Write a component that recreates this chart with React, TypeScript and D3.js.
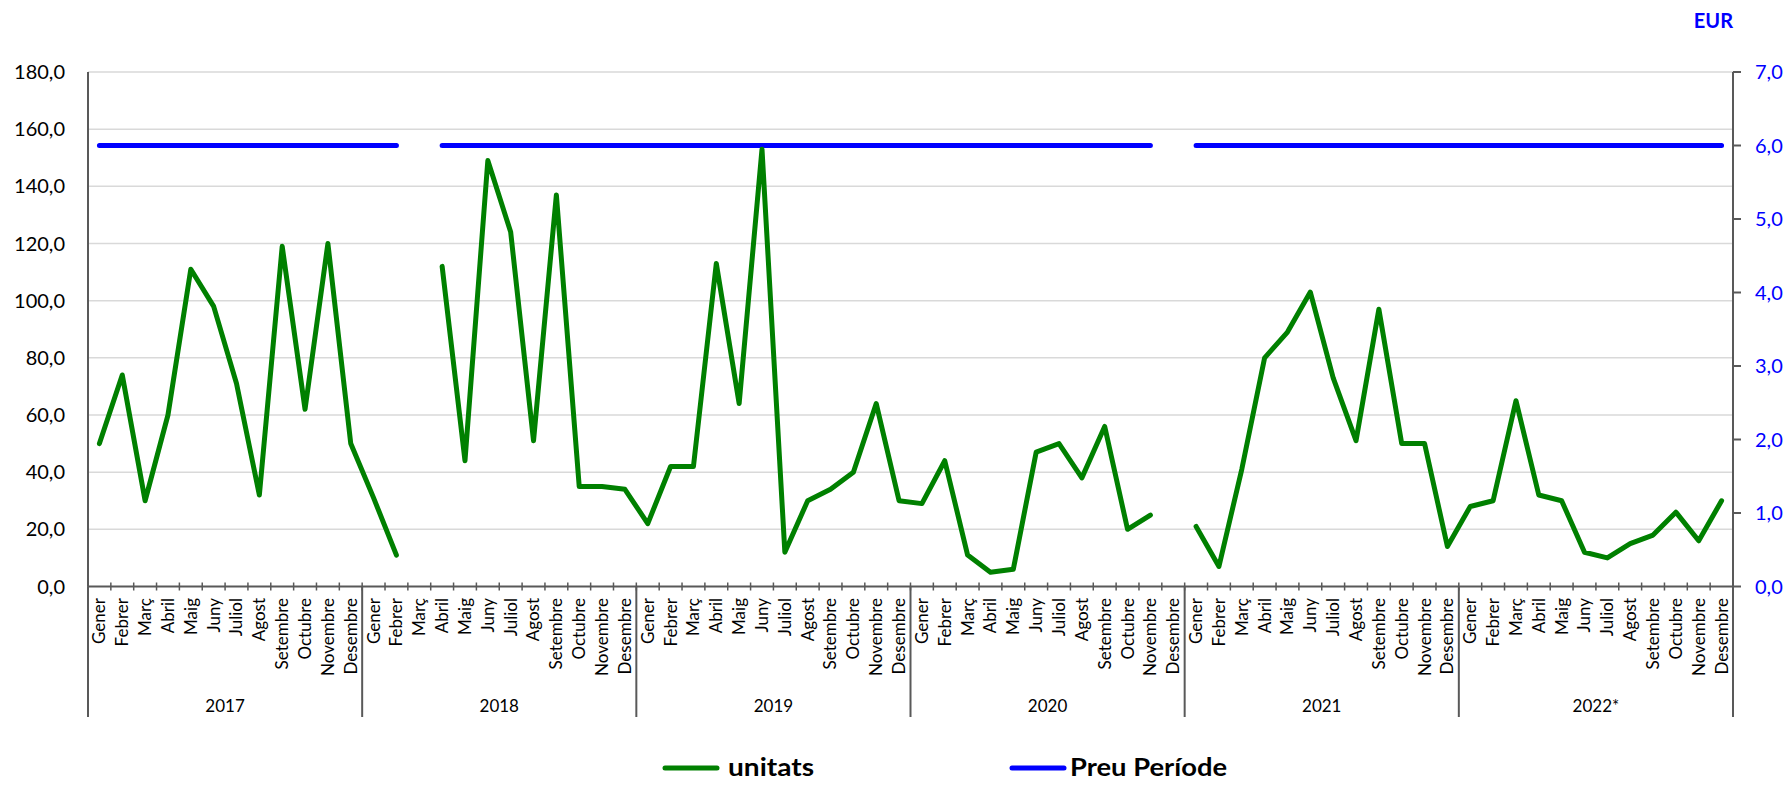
import { useEffect, useRef } from 'react'
import * as d3 from 'd3'

// month names (Catalan) and years shown on the two-level category axis
const MONTHS = ['Gener', 'Febrer', 'Març', 'Abril', 'Maig', 'Juny', 'Juliol', 'Agost', 'Setembre', 'Octubre', 'Novembre', 'Desembre']
const YEARS  = ['2017', '2018', '2019', '2020', '2021', '2022*']

// unitats (left axis), one value per month, null = no data
const UNITATS: (number | null)[] = [
  50, 74, 30, 60, 111, 98, 71, 32, 119, 62, 120, 50,        // 2017
  31, 11, null, 112, 44, 149, 124, 51, 137, 35, 35, 34,     // 2018
  22, 42, 42, 113, 64, 153, 12, 30, 34, 40, 64, 30,         // 2019
  29, 44, 11, 5, 6, 47, 50, 38, 56, 20, 25, null,           // 2020
  21, 7, 41, 80, 89, 103, 73, 51, 97, 50, 50, 14,           // 2021
  28, 30, 65, 32, 30, 12, 10, 15, 18, 26, 16, 30,           // 2022
]

// Preu Període (right axis, EUR)
const PREU: (number | null)[] = [
  6, 6, 6, 6, 6, 6, 6, 6, 6, 6, 6, 6,
  6, 6, null, 6, 6, 6, 6, 6, 6, 6, 6, 6,
  6, 6, 6, 6, 6, 6, 6, 6, 6, 6, 6, 6,
  6, 6, 6, 6, 6, 6, 6, 6, 6, 6, 6, null,
  6, 6, 6, 6, 6, 6, 6, 6, 6, 6, 6, 6,
  6, 6, 6, 6, 6, 6, 6, 6, 6, 6, 6, 6,
]

const LEFT_TICKS  = [0, 20, 40, 60, 80, 100, 120, 140, 160, 180]
const RIGHT_TICKS = [0, 1, 2, 3, 4, 5, 6, 7]

const GREEN = '#008000'
const BLUE  = '#0000ff'
const FONT  = 'Lato, "Open Sans", sans-serif'

export default function App() {
  const svgRef = useRef<SVGSVGElement>(null)

  useEffect(() => {
    document.body.style.margin = '0'
    if (!svgRef.current) return
    const svg = d3.select(svgRef.current)
    svg.selectAll('*').remove()

    const W = 1789, H = 788
    const x0 = 88, x1 = 1733
    const yTop = 72, yBot = 586.5

    svg.attr('width', W).attr('height', H).style('font-family', FONT)

    const idx = d3.range(UNITATS.length)
    const x = d3.scaleBand<number>().domain(idx).range([x0, x1]).paddingInner(0).paddingOuter(0)
    const cx = (i: number) => x(i)! + x.bandwidth() / 2
    const yL = d3.scaleLinear().domain([0, 180]).range([yBot, yTop])
    const yR = d3.scaleLinear().domain([0, 7]).range([yBot, yTop])

    // Grid
    svg.append('g')
      .selectAll('line')
      .data(LEFT_TICKS.filter(t => t > 0))
      .join('line')
      .attr('x1', x0).attr('x2', x1)
      .attr('y1', d => yL(d)).attr('y2', d => yL(d))
      .attr('stroke', '#d9d9d9').attr('stroke-width', 1.5)

    // Left axis
    svg.append('line').attr('x1', x0).attr('x2', x0).attr('y1', yTop).attr('y2', yBot)
      .attr('stroke', '#595959').attr('stroke-width', 2)
    svg.append('g')
      .selectAll('text')
      .data(LEFT_TICKS)
      .join('text')
      .attr('x', 65).attr('y', d => yL(d)).attr('dy', '0.35em')
      .attr('text-anchor', 'end').attr('font-size', 20).attr('fill', '#000')
      .text(d => d.toFixed(1).replace('.', ','))

    // Right axis
    svg.append('line').attr('x1', x1).attr('x2', x1).attr('y1', yTop).attr('y2', yBot)
      .attr('stroke', '#595959').attr('stroke-width', 2)
    const rt = svg.append('g').selectAll('g').data(RIGHT_TICKS).join('g')
    rt.append('line')
      .attr('x1', x1).attr('x2', x1 + 8)
      .attr('y1', d => yR(d)).attr('y2', d => yR(d))
      .attr('stroke', '#595959').attr('stroke-width', 2)
    rt.append('text')
      .attr('x', 1755).attr('y', d => yR(d)).attr('dy', '0.35em')
      .attr('font-size', 20).attr('fill', BLUE)
      .text(d => d.toFixed(1).replace('.', ','))

    svg.append('text')
      .attr('x', x1).attr('y', 28).attr('text-anchor', 'end')
      .attr('font-size', 20).attr('font-weight', 700).attr('fill', BLUE)
      .text('EUR')

    // Category axis
    svg.append('line').attr('x1', x0).attr('x2', x1).attr('y1', yBot).attr('y2', yBot)
      .attr('stroke', '#595959').attr('stroke-width', 2)
    svg.append('g')
      .selectAll('line')
      .data(d3.range(UNITATS.length + 1))
      .join('line')
      .attr('x1', i => x0 + i * x.bandwidth()).attr('x2', i => x0 + i * x.bandwidth())
      .attr('y1', yBot - 4).attr('y2', yBot + 4)
      .attr('stroke', '#595959').attr('stroke-width', 1.5)
    svg.append('g')
      .selectAll('line')
      .data(d3.range(YEARS.length + 1))
      .join('line')
      .attr('x1', k => x0 + k * 12 * x.bandwidth()).attr('x2', k => x0 + k * 12 * x.bandwidth())
      .attr('y1', yBot).attr('y2', 717)
      .attr('stroke', '#595959').attr('stroke-width', 2)

    svg.append('g')
      .selectAll('text')
      .data(idx)
      .join('text')
      .attr('transform', i => `translate(${cx(i)},598) rotate(-90)`)
      .attr('dy', '0.35em').attr('text-anchor', 'end')
      .attr('font-size', 17).attr('fill', '#000')
      .text(i => MONTHS[i % 12])

    svg.append('g')
      .selectAll('text')
      .data(YEARS)
      .join('text')
      .attr('x', (_, k) => x0 + (k * 12 + 6) * x.bandwidth())
      .attr('y', 712).attr('text-anchor', 'middle')
      .attr('font-size', 17).attr('fill', '#000')
      .text(d => d)

    // Lines
    const lineL = d3.line<number | null>()
      .defined(d => d !== null)
      .x((_, i) => cx(i)).y(d => yL(d as number))
    const lineR = d3.line<number | null>()
      .defined(d => d !== null)
      .x((_, i) => cx(i)).y(d => yR(d as number))

    svg.append('path').datum(PREU).attr('d', lineR)
      .attr('fill', 'none').attr('stroke', BLUE).attr('stroke-width', 5)
      .attr('stroke-linecap', 'round').attr('stroke-linejoin', 'round')
    svg.append('path').datum(UNITATS).attr('d', lineL)
      .attr('fill', 'none').attr('stroke', GREEN).attr('stroke-width', 5)
      .attr('stroke-linecap', 'round').attr('stroke-linejoin', 'round')

    // Legend
    const legend = [
      { label: 'unitats', color: GREEN, lx: 665, tx: 728, tw: 86 },
      { label: 'Preu Període', color: BLUE, lx: 1012, tx: 1070, tw: 157 },
    ]
    const lg = svg.append('g').selectAll('g').data(legend).join('g')
    lg.append('line')
      .attr('x1', d => d.lx).attr('x2', d => d.lx + 52)
      .attr('y1', 768).attr('y2', 768)
      .attr('stroke', d => d.color).attr('stroke-width', 5).attr('stroke-linecap', 'round')
    lg.append('text')
      .attr('x', d => d.tx).attr('y', 768).attr('dy', '0.35em')
      .attr('font-size', 24).attr('font-weight', 700).attr('fill', '#000')
      .attr('textLength', d => d.tw).attr('lengthAdjust', 'spacingAndGlyphs')
      .text(d => d.label)
  }, [])

  return <svg ref={svgRef} style={{ display: 'block' }} />
}
